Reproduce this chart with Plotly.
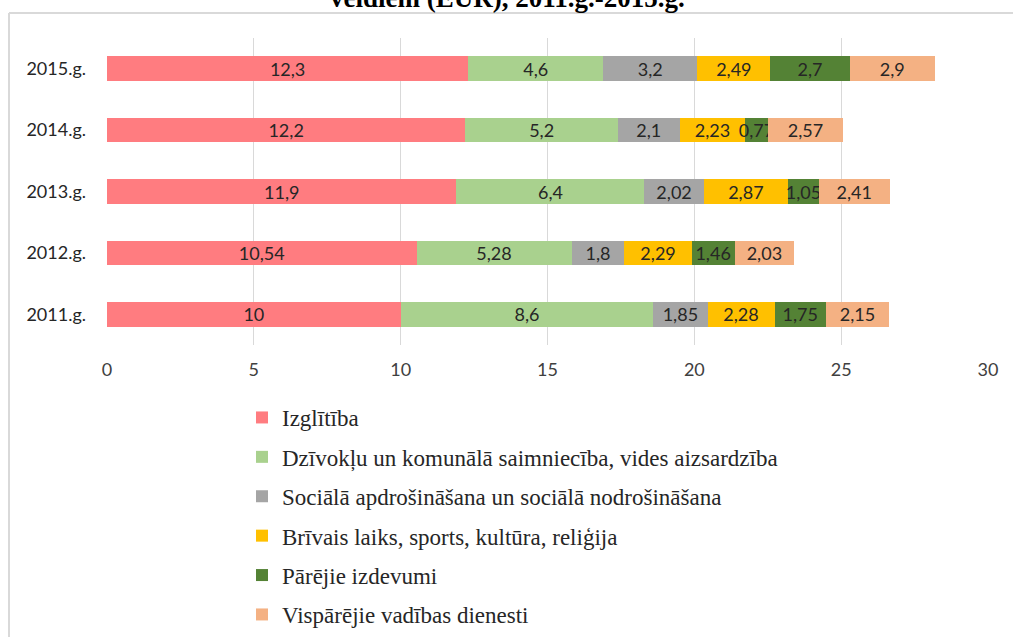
import plotly.graph_objects as go

years = ["2011.g.", "2012.g.", "2013.g.", "2014.g.", "2015.g."]
series_names = [
    "Izglītība",
    "Dzīvokļu un komunālā saimniecība, vides aizsardzība",
    "Sociālā apdrošināšana un sociālā nodrošināšana",
    "Brīvais laiks, sports, kultūra, reliģija",
    "Pārējie izdevumi",
    "Vispārējie vadības dienesti",
]
izglitiba = [10, 10.54, 11.9, 12.2, 12.3]
dzivoklu = [8.6, 5.28, 6.4, 5.2, 4.6]
sociala = [1.85, 1.8, 2.02, 2.1, 3.2]
brivais = [2.28, 2.29, 2.87, 2.23, 2.49]
pareja = [1.75, 1.46, 1.05, 0.77, 2.7]
visparejie = [2.15, 2.03, 2.41, 2.57, 2.9]
series_values = [izglitiba, dzivoklu, sociala, brivais, pareja, visparejie]
colors = ["#FF7C80", "#A9D18E", "#A5A5A5", "#FFC000", "#548235", "#F4B183"]
x_ticks = [0, 5, 10, 15, 20, 25, 30]
title_text = "veidiem (EUR), 2011.g.-2015.g."

# body margin is removed in the page, so the figure starts at the page corner
W, H = 1013, 637
L, R, T, B = 107, 988, 38, 345

def px_x(p):
    return (p - L) / (R - L)

def px_y(p):
    return (B - p) / (B - T)

fig = go.Figure()
for i, (name, vals, col) in enumerate(zip(series_names, series_values, colors)):
    fig.add_trace(go.Bar(
        y=years, x=vals, name=name, orientation="h",
        marker=dict(color=col, line=dict(width=0)),
        text=[str(v).replace(".", ",") for v in vals],
        textposition="inside", insidetextanchor="middle", textangle=0,
        textfont=dict(family="Lato", size=18, color="#262626"),
        legendgroup="g%d" % i,
        hoverinfo="x+y+name",
    ))

fig.update_layout(
    width=W, height=H,
    margin=dict(l=L, r=W - R, t=T, b=H - B, autoexpand=False),
    barmode="stack", bargap=0.6,
    paper_bgcolor="white", plot_bgcolor="white",
    uniformtext=dict(minsize=18, mode="show"),
    xaxis=dict(
        range=[0, 30], tickvals=x_ticks, showgrid=True, gridcolor="#D9D9D9",
        gridwidth=1, zeroline=False, showline=False, ticks="",
        tickfont=dict(family="Lato", size=18, color="#404040"),
        ticklabelstandoff=12, fixedrange=True,
    ),
    yaxis=dict(
        categoryorder="array", categoryarray=years, showgrid=False,
        zeroline=False, showline=False, ticks="",
        tickfont=dict(family="Lato", size=18, color="#262626"),
        ticklabelstandoff=20, fixedrange=True,
    ),
    legend=dict(
        x=px_x(242), y=px_y(396), xanchor="left", yanchor="top",
        orientation="v", traceorder="grouped", tracegroupgap=6.5,
        font=dict(family="Liberation Serif", size=23, color="#262626"),
        bgcolor="rgba(0,0,0,0)", itemclick=False, itemdoubleclick=False,
    ),
    showlegend=True,
    annotations=[dict(
        text="<b>" + title_text + "</b>", xref="paper", yref="paper",
        x=px_x(507), y=px_y(15), xanchor="center", yanchor="bottom",
        showarrow=False, font=dict(family="Liberation Serif", size=27, color="black"),
    )],
    shapes=[
        dict(type="line", xref="paper", yref="paper", x0=px_x(9), x1=px_x(1030),
             y0=px_y(13), y1=px_y(13), line=dict(color="#D9D9D9", width=2)),
        dict(type="line", xref="paper", yref="paper", x0=px_x(9), x1=px_x(9),
             y0=px_y(13), y1=px_y(660), line=dict(color="#D9D9D9", width=2)),
    ],
)

fig.write_html(
    "out.html",
    config={"displayModeBar": False},
    post_script="document.body.style.margin='0';document.body.style.overflow='hidden';",
)
